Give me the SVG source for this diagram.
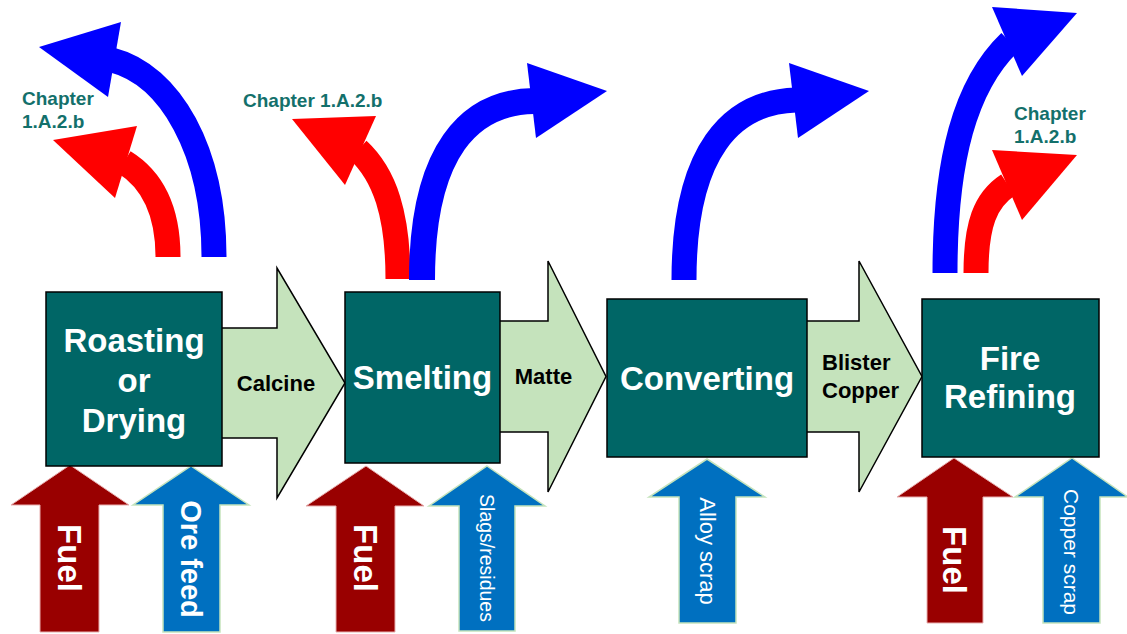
<svg xmlns="http://www.w3.org/2000/svg" width="1127" height="634" viewBox="0 0 1127 634">
<style>
.box{fill:#006666;stroke:#000;stroke-width:1.5}
.flow{fill:#C5E3BC;stroke:#000;stroke-width:1.5;stroke-linejoin:miter}
.btxt{font-family:"Liberation Sans",Arial,sans-serif;font-weight:bold;font-size:33px;fill:#fff;text-anchor:middle}
.ftxt{font-family:"Liberation Sans",Arial,sans-serif;font-weight:bold;font-size:22px;fill:#000}
.ch{font-family:"Liberation Sans",Arial,sans-serif;font-weight:bold;font-size:19px;fill:#13706B}
.fuel{fill:#990000;stroke:#E8B0B0;stroke-width:1}
.feed{fill:#0070C0;stroke:#C5E3BC;stroke-width:1.5}
.fueltxt{font-family:"Liberation Sans",Arial,sans-serif;font-weight:bold;font-size:33px;fill:#fff;text-anchor:middle}
.feedtxt{font-family:"Liberation Sans",Arial,sans-serif;font-size:21px;fill:#fff;text-anchor:middle}
.rs{fill:none;stroke:#FF0000;stroke-width:25}
.bs{fill:none;stroke:#0000FF;stroke-width:25}
.rh{fill:#FF0000}
.bh{fill:#0000FF}
</style>
<g id="connectors">
  <!-- flow arrows -->
  <polygon class="flow" points="215,328 277,328 277,268 345,383 277,498 277,438 215,438"/>
  <polygon class="flow" points="495,321 548,321 548,261 606,376.5 548,492 548,432 495,432"/>
  <polygon class="flow" points="800,321 859,321 859,261 922,376.5 859,492 859,432 800,432"/>
  <!-- emission arrows: roasting -->
  <path class="bs" d="M214,257 C214,150 170,75 112,60"/>
  <polygon class="bh" points="39,47 121,22 108,97"/>
  <path class="rs" d="M168,257 C168,200 145,175 124,162"/>
  <polygon class="rh" points="53,140 137,126 115,198"/>
  <!-- smelting -->
  <path class="rs" d="M398,279 C398,215 385,175 358,150"/>
  <polygon class="rh" points="292,119 376,116 345,185"/>
  <path class="bs" style="stroke-width:26" d="M422,280 C422,150 470,102 534,101"/>
  <polygon class="bh" points="607,91 527,63 536,138"/>
  <!-- converting -->
  <path class="bs" d="M684,280 C684,150 732,102 796,100"/>
  <polygon class="bh" points="869,91 789,63 798,138"/>
  <!-- fire refining -->
  <path class="bs" d="M945,273 C945,160 965,85 1010,42"/>
  <polygon class="bh" points="1077,13 992,7 1022,76"/>
  <path class="rs" d="M976,273 C976,225 985,200 1008,185"/>
  <polygon class="rh" points="1077,155 992,150 1022,220"/>
  <!-- input arrows -->
  <polygon class="fuel" points="70,465 129,505 99,505 99,632 40,632 40,505 11,505"/>
  <polygon class="feed" points="191,466 249,505 220,505 220,632 163,632 163,505 133,505"/>
  <polygon class="fuel" points="366,466 424,506 395,506 395,632 336,632 336,506 306,506"/>
  <polygon class="feed" points="487,466 545,506 515,506 515,631 459,631 459,506 429,506"/>
  <polygon class="feed" points="707,459 765,497 736,497 736,623 679,623 679,497 649,497"/>
  <polygon class="fuel" points="954,458 1013,497 983,497 983,623 927,623 927,497 897,497"/>
  <polygon class="feed" points="1072,458 1128,497 1100,497 1100,623 1043,623 1043,497 1015,497"/>
</g>
<g id="labels">
  <text class="ftxt" x="276" y="391" text-anchor="middle">Calcine</text>
  <text class="ftxt" x="543.5" y="384" text-anchor="middle">Matte</text>
  <text class="ftxt" x="822" y="370">Blister</text>
  <text class="ftxt" x="822" y="398">Copper</text>
  <text class="ch" x="22" y="105">Chapter</text>
  <text class="ch" x="22" y="128">1.A.2.b</text>
  <text class="ch" x="243" y="107">Chapter 1.A.2.b</text>
  <text class="ch" x="1014" y="120">Chapter</text>
  <text class="ch" x="1014" y="143">1.A.2.b</text>
  <text class="fueltxt" transform="translate(58,558) rotate(90)">Fuel</text>
  <text class="fueltxt" style="font-size:29px" transform="translate(181,559) rotate(90)">Ore feed</text>
  <text class="fueltxt" transform="translate(354,558) rotate(90)">Fuel</text>
  <text class="feedtxt" style="font-size:19.5px" transform="translate(480,558) rotate(90)">Slags/residues</text>
  <text class="feedtxt" style="font-size:22px" transform="translate(700,551) rotate(90)">Alloy scrap</text>
  <text class="fueltxt" transform="translate(943,560) rotate(90)">Fuel</text>
  <text class="feedtxt" transform="translate(1064,552) rotate(90)">Copper scrap</text>
</g>
<g id="roasting">
  <rect class="box" x="46" y="292" width="176" height="174"/>
  <text class="btxt" x="134" y="352">Roasting</text>
  <text class="btxt" x="134" y="392">or</text>
  <text class="btxt" x="134" y="432">Drying</text>
</g>
<g id="smelting">
  <rect class="box" x="345" y="292" width="155" height="171"/>
  <text class="btxt" x="422.5" y="389">Smelting</text>
</g>
<g id="converting">
  <rect class="box" x="607" y="299" width="200" height="158"/>
  <text class="btxt" x="707" y="390">Converting</text>
</g>
<g id="fire-refining">
  <rect class="box" x="922" y="299" width="177" height="158"/>
  <text class="btxt" x="1010" y="370">Fire</text>
  <text class="btxt" x="1010" y="408">Refining</text>
</g>
</svg>
